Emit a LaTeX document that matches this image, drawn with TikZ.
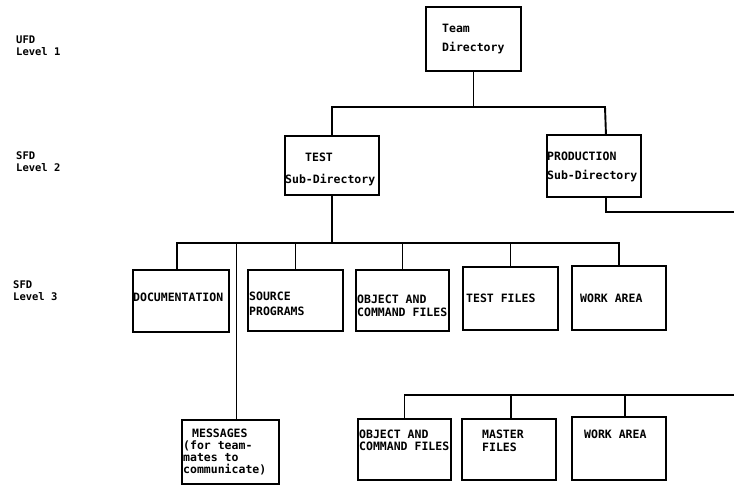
\documentclass[tikz,border=0pt]{standalone}
\usepackage{fontspec}
\newfontfamily\dmono{DejaVu Sans Mono}[BoldFont={DejaVu Sans Mono Bold}]
\usetikzlibrary{calc}
\begin{document}
\begin{tikzpicture}[x=1pt,y=-1pt,
  wire/.style={line width=1.9pt},
  box/.style={draw,line width=1.9pt,inner sep=0pt,anchor=north west},
  txt/.style={font=\fontsize{11.5}{#1}\selectfont\dmono\bfseries,inner sep=0pt,anchor=north west,align=left},
  txt/.default=14,
  side/.style={font=\fontsize{10.5}{12}\selectfont\dmono\bfseries,inner sep=0pt,anchor=north west,align=left}]
\useasboundingbox (0,0) rectangle (734,485);

% level captions
\node[side] (l1) at (16,36) {UFD\\Level 1};
\node[side] (l2) at (16,152) {SFD\\Level 2};
\node[side] (l3) at (13,281) {SFD\\Level 3};

% directory boxes
\node[box,minimum width=95pt,minimum height=64pt] (team)   at (425,6)   {};
\node[box,minimum width=94pt,minimum height=59pt] (test)   at (284,135) {};
\node[box,minimum width=94pt,minimum height=62pt] (prod)   at (546,134) {};
\node[box,minimum width=96pt,minimum height=62pt] (doc)    at (132,269) {};
\node[box,minimum width=95pt,minimum height=61pt] (src)    at (247,269) {};
\node[box,minimum width=93pt,minimum height=61pt] (obj)    at (355,269) {};
\node[box,minimum width=95pt,minimum height=63pt] (tfiles) at (462,266) {};
\node[box,minimum width=94pt,minimum height=64pt] (work)   at (571,265) {};
\node[box,minimum width=97pt,minimum height=64pt] (msg)    at (181,419) {};
\node[box,minimum width=93pt,minimum height=61pt] (obj2)   at (357,418) {};
\node[box,minimum width=94pt,minimum height=61pt] (master) at (461,418) {};
\node[box,minimum width=94pt,minimum height=63pt] (work2)  at (571,416) {};

% box texts
\node[txt=19] (tteam) at (442,24) {Team\\Directory};
\node[txt=22] (ttest) at (285,153) {\hspace*{20pt}TEST\\Sub-Directory};
\node[txt=19] (tprod) at (547,152) {PRODUCTION\\Sub-Directory};
\node[txt] (tdoc) at (133,293) {DOCUMENTATION};
\node[txt=15] (tsrc) at (249,292) {SOURCE\\PROGRAMS};
\node[txt=13] (tobj) at (357,295) {OBJECT AND\\COMMAND FILES};
\node[txt] (ttf) at (466,294) {TEST FILES};
\node[txt] (twork) at (580,294) {WORK AREA};
\node[txt=12] (tmsg) at (183,429) {\hspace*{9pt}MESSAGES\\(for team-\\mates to\\communicate)};
\node[txt=12] (tobj2) at (359,430) {OBJECT AND\\COMMAND FILES};
\node[txt=13] (tmaster) at (482,430) {MASTER\\FILES};
\node[txt] (twork2) at (584,430) {WORK AREA};

% bus lines
\coordinate (tbus) at (0,107);
\coordinate (mbus) at (0,243);
\coordinate (pin) at (605,134);
\coordinate (pend) at (734,212);
\coordinate (bend) at (734,395);

% team directory to its sub-directories
\draw[wire] (team.south) -- (team.south |- tbus);
\draw[wire] (test.north) |- (tbus -| pin) -- ([xshift=12pt]prod.north);

% test sub-directory to its files
\draw[wire] (test.south) -- (test.south |- mbus);
\draw[wire] ([xshift=-4pt]doc.north) |- (mbus -| work.north) -- (work.north);
\draw[wire] (src.north) -- (src.north |- mbus);
\draw[wire] (obj.north) -- (obj.north |- mbus);
\draw[wire] (tfiles.north) -- (tfiles.north |- mbus);
\draw[wire] ([xshift=6pt]msg.north) -- ([xshift=6pt]msg.north |- mbus);

% production sub-directory to its files
\draw[wire] ([xshift=12pt]prod.south) |- (pend);
\draw[wire] (bend) -| (obj2.north);
\draw[wire] ([xshift=2pt]master.north) -- ([xshift=2pt]master.north |- bend);
\draw[wire] ([xshift=6pt]work2.north) -- ([xshift=6pt]work2.north |- bend);
\end{tikzpicture}
\end{document}
